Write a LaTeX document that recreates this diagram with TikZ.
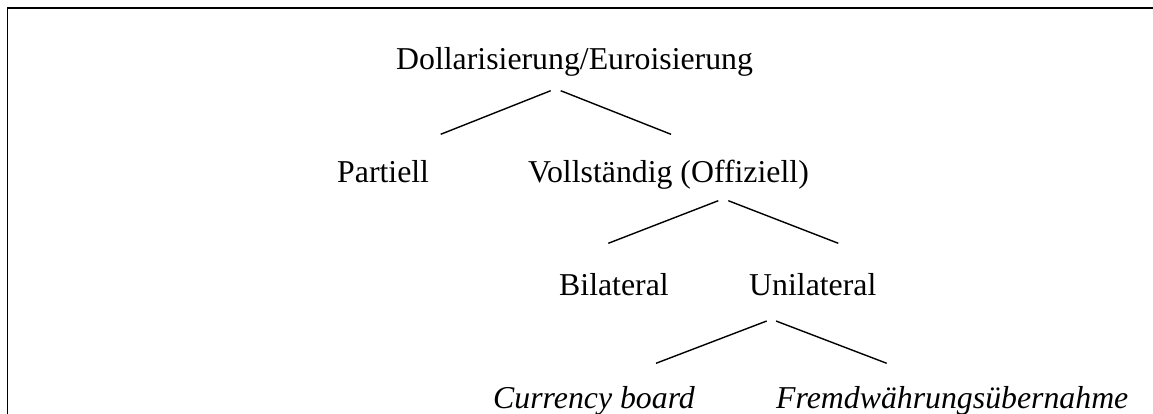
\documentclass[tikz,border=0pt]{standalone}
\usepackage{fontspec}
\setmainfont{Liberation Serif}
\usepackage{tikz}

\tikzset{
    Blatt/.style={anchor=base west,inner sep=0pt,font=\fontsize{31.8}{38}\selectfont},
    Ast/.style={line width=1.4pt},
    Rahmen/.style={line width=1.6pt}
}

\begin{document}
\begin{tikzpicture}[x=1pt,y=1pt]
    \useasboundingbox (0,0) rectangle (1153,-414);
    \draw[Rahmen] (7.3,-414) -- (7.3,-8.3) -- (1153,-8.3);

    \node[Blatt] (dollar) at (396,-70) {Dollarisierung/Euroisierung};
    \node[Blatt] (partiell) at (337,-182.3) {Partiell};
    \node[Blatt] (voll) at (528,-182.3) {Vollständig (Offiziell)};
    \node[Blatt] (bilat) at (559,-295) {Bilateral};
    \node[Blatt] (unilat) at (749,-295) {Unilateral};
    \node[Blatt] (board) at (493,-408.3) {\itshape Currency board};
    \node[Blatt] (fremd) at (776,-408.3) {\itshape Fremdwährungsübernahme};

    \coordinate (dollarL) at (550.7,-90.7);
    \coordinate (dollarR) at (560.7,-90.7);
    \coordinate (partiellT) at (440.7,-134.3);
    \coordinate (vollT) at (671,-134.3);
    \coordinate (vollL) at (718.3,-200.7);
    \coordinate (vollR) at (728.3,-200.7);
    \coordinate (bilatT) at (608.3,-243.3);
    \coordinate (unilatT) at (838.3,-243.3);
    \coordinate (unilatL) at (766.7,-321);
    \coordinate (unilatR) at (776,-321);
    \coordinate (boardT) at (656,-363.3);
    \coordinate (fremdT) at (886.7,-363.3);

    \draw[Ast] (dollarL) -- (partiellT);
    \draw[Ast] (dollarR) -- (vollT);
    \draw[Ast] (vollL) -- (bilatT);
    \draw[Ast] (vollR) -- (unilatT);
    \draw[Ast] (unilatL) -- (boardT);
    \draw[Ast] (unilatR) -- (fremdT);
\end{tikzpicture}
\end{document}
